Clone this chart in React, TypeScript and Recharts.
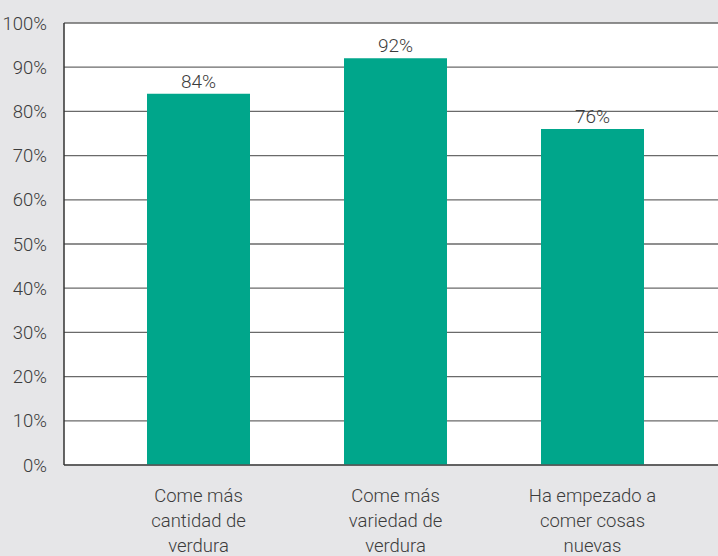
import React from "react";
import { BarChart, Bar, XAxis, YAxis, CartesianGrid, LabelList } from "recharts";

const categories = [
  "Come más\ncantidad de\nverdura",
  "Come más\nvariedad de\nverdura",
  "Ha empezado a\ncomer cosas\nnuevas",
];
const values = [84, 92, 76];
const yTicks = [0, 10, 20, 30, 40, 50, 60, 70, 80, 90, 100];

const data = categories.map((c, i) => ({ name: c, value: values[i] }));

const FONT = "Roboto, 'Noto Sans', sans-serif";
const TEXT = "#3c3c3c";

const XTick = (props: any) => {
  const { x, y, payload } = props;
  const lines = String(payload.value).split("\n");
  return (
    <g>
      {lines.map((l: string, i: number) => (
        <text
          key={i}
          x={x}
          y={y + 23 + i * 25}
          textAnchor="middle"
          dominantBaseline="central"
          fontFamily={FONT}
          fontWeight={300}
          fontSize={18.5}
          fill={TEXT}
        >
          {l}
        </text>
      ))}
    </g>
  );
};

export default function App() {
  return (
    <div
      style={{
        position: "absolute",
        left: 0,
        top: 0,
        width: 718,
        height: 556,
        background: "#e6e6e8",
      }}
    >
      <BarChart
        width={718}
        height={556}
        data={data}
        margin={{ top: 23, right: 0, left: 0, bottom: 0 }}
      >
        <CartesianGrid
          vertical={false}
          stroke="#6a6a6a"
          strokeWidth={1.3}
          fill="#ffffff"
          fillOpacity={1}
        />
        <XAxis
          dataKey="name"
          height={91}
          padding={{ left: 36, right: 27 }}
          tickLine={false}
          axisLine={{ stroke: "#555", strokeWidth: 1.5 }}
          tick={<XTick />}
          interval={0}
        />
        <YAxis
          width={64}
          domain={[0, 100]}
          ticks={yTicks}
          tickFormatter={(v: number) => `${v}%`}
          tickLine={false}
          tickMargin={11}
          axisLine={{ stroke: "#333", strokeWidth: 1.5 }}
          tick={{ fontFamily: FONT, fontWeight: 300, fontSize: 18.5, fill: TEXT }}
        />
        <Bar dataKey="value" fill="#00a68b" barSize={103} isAnimationActive={false}>
          <LabelList
            dataKey="value"
            position="top"
            offset={6}
            formatter={(v: number) => `${v}%`}
            style={{ fontFamily: FONT, fontWeight: 300, fontSize: 19, fill: TEXT }}
          />
        </Bar>
      </BarChart>
    </div>
  );
}
